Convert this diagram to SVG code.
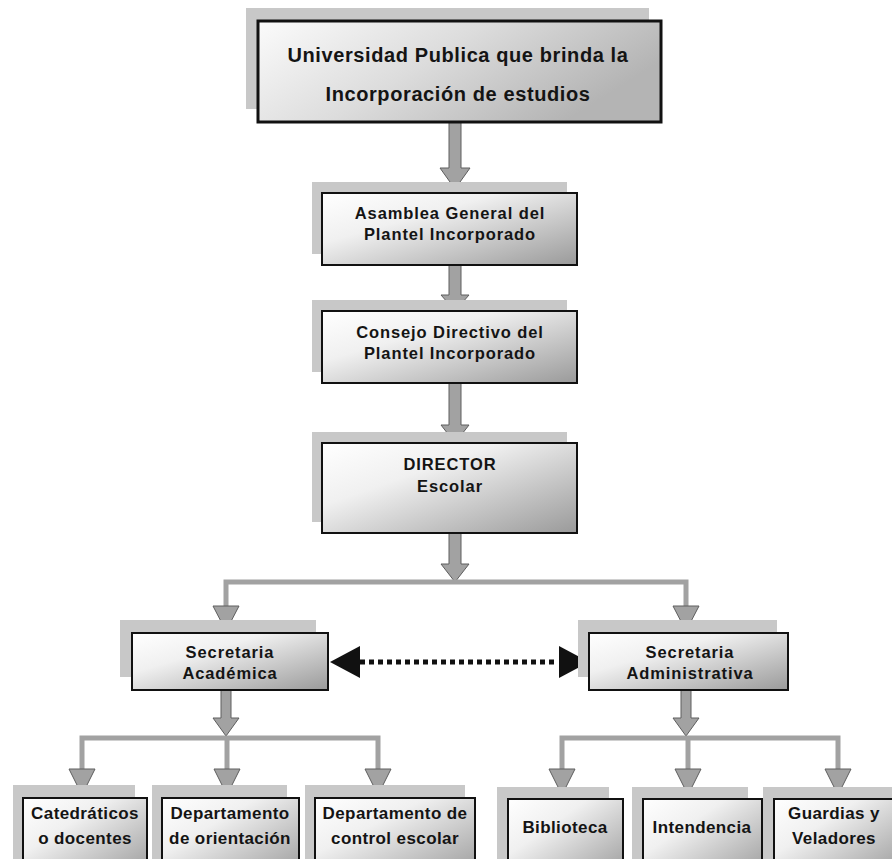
<svg xmlns="http://www.w3.org/2000/svg" width="892" height="859" viewBox="0 0 892 859">
  <defs>
    <linearGradient id="boxFill" x1="0" y1="0" x2="1" y2="1">
      <stop offset="0" stop-color="#ffffff"/>
      <stop offset="0.35" stop-color="#f0f0f0"/>
      <stop offset="1" stop-color="#9a9a9a"/>
    </linearGradient>
    <linearGradient id="topFill" x1="0" y1="0" x2="1" y2="0.4">
      <stop offset="0" stop-color="#fbfbfb"/>
      <stop offset="0.5" stop-color="#dcdcdc"/>
      <stop offset="1" stop-color="#b4b4b4"/>
    </linearGradient>
  </defs>
  <style>
    .shadow { fill: #c8c8c8; }
    .box { fill: url(#boxFill); stroke: #111; stroke-width: 2; }
    .topbox { fill: url(#topFill); stroke: #111; stroke-width: 3; }
    .lbl { font-family: "Liberation Sans", Arial, sans-serif; font-weight: bold; fill: #141414; text-anchor: middle; dominant-baseline: central; }
    .t20 { font-size: 20px; letter-spacing: 0.6px; }
    .t16 { font-size: 16.5px; letter-spacing: 0.9px; }
    .t17 { font-size: 17px; letter-spacing: 0.4px; }
    .arrow { fill: #a2a2a2; stroke: #5e5e5e; stroke-width: 1; }
    .bar { fill: none; stroke: #a2a2a2; stroke-width: 5; }
    .dots { fill: none; stroke: #111; stroke-width: 5; stroke-dasharray: 5 4; }
    .head { fill: #111; }
  </style>

  <rect width="892" height="859" fill="#ffffff"/>

  <!-- connectors -->
  <g id="connectors">
    <!-- trunk arrows -->
    <path class="arrow" d="M449,122 L461,122 L461,168 L470,168 L455,189 L440,168 L449,168 Z"/>
    <path class="arrow" d="M449,265 L461,265 L461,295 L469,295 L455,311 L441,295 L449,295 Z"/>
    <path class="arrow" d="M449,383 L461,383 L461,425 L469,425 L455,443 L441,425 L449,425 Z"/>
    <path class="arrow" d="M449,533 L461,533 L461,564 L469,564 L455,582 L441,564 L449,564 Z"/>
    <!-- split to the two secretariats -->
    <path class="bar" d="M226,608 L226,582 L686,582 L686,608"/>
    <path class="arrow" d="M213,606 L239,606 L226,631 Z"/>
    <path class="arrow" d="M673,606 L699,606 L686,631 Z"/>
    <!-- academic branch -->
    <path class="arrow" d="M221,690 L231,690 L231,718 L239,718 L226,736 L213,718 L221,718 Z"/>
    <path class="bar" d="M82,771 L82,738 L378,738 L378,771"/>
    <path class="bar" d="M227,738 L227,771"/>
    <path class="arrow" d="M69,769 L95,769 L82,795 Z"/>
    <path class="arrow" d="M214,769 L240,769 L227,795 Z"/>
    <path class="arrow" d="M365,769 L391,769 L378,795 Z"/>
    <!-- administrative branch -->
    <path class="arrow" d="M681,690 L691,690 L691,718 L699,718 L686,736 L673,718 L681,718 Z"/>
    <path class="bar" d="M562,771 L562,738 L838,738 L838,771"/>
    <path class="bar" d="M688,738 L688,771"/>
    <path class="arrow" d="M549,769 L575,769 L562,795 Z"/>
    <path class="arrow" d="M675,769 L701,769 L688,795 Z"/>
    <path class="arrow" d="M825,769 L851,769 L838,795 Z"/>
    <!-- coordination between secretariats -->
    <line class="dots" x1="360" y1="662" x2="558" y2="662"/>
    <path class="head" d="M330,662 L360,646 L360,678 Z"/>
    <path class="head" d="M589,662 L559,646 L559,678 Z"/>
  </g>

  <g id="universidad">
    <rect class="shadow" x="246" y="8" width="403" height="101"/>
    <rect class="topbox" x="258" y="21" width="403" height="101"/>
    <text class="lbl t20" x="458" y="55">Universidad Publica que brinda la</text>
    <text class="lbl t20" x="458" y="94">Incorporación de estudios</text>
  </g>

  <g id="asamblea">
    <rect class="shadow" x="312" y="182" width="255" height="72"/>
    <rect class="box" x="322" y="193" width="255" height="72"/>
    <text class="lbl t16" x="450" y="213">Asamblea General del</text>
    <text class="lbl t16" x="450" y="234">Plantel Incorporado</text>
  </g>

  <g id="consejo">
    <rect class="shadow" x="312" y="300" width="255" height="72"/>
    <rect class="box" x="322" y="311" width="255" height="72"/>
    <text class="lbl t16" x="450" y="332">Consejo Directivo del</text>
    <text class="lbl t16" x="450" y="353">Plantel Incorporado</text>
  </g>

  <g id="director">
    <rect class="shadow" x="312" y="432" width="255" height="90"/>
    <rect class="box" x="322" y="443" width="255" height="90"/>
    <text class="lbl t16" x="450" y="464">DIRECTOR</text>
    <text class="lbl t16" x="450" y="486">Escolar</text>
  </g>

  <g id="sec-academica">
    <rect class="shadow" x="120" y="620" width="196" height="57"/>
    <rect class="box" x="132" y="633" width="196" height="57"/>
    <text class="lbl t16" x="230" y="652">Secretaria</text>
    <text class="lbl t16" x="230" y="673">Académica</text>
  </g>

  <g id="sec-administrativa">
    <rect class="shadow" x="578" y="620" width="199" height="57"/>
    <rect class="box" x="589" y="633" width="199" height="57"/>
    <text class="lbl t16" x="690" y="652">Secretaria</text>
    <text class="lbl t16" x="690" y="673">Administrativa</text>
  </g>

  <g id="catedraticos">
    <rect class="shadow" x="13" y="785" width="122" height="80"/>
    <rect class="box" x="23" y="798" width="124" height="80"/>
    <text class="lbl t17" x="85" y="813">Catedráticos</text>
    <text class="lbl t17" x="85" y="838">o docentes</text>
  </g>

  <g id="dep-orientacion">
    <rect class="shadow" x="152" y="785" width="135" height="80"/>
    <rect class="box" x="162" y="798" width="137" height="80"/>
    <text class="lbl t17" x="230" y="813">Departamento</text>
    <text class="lbl t17" x="230" y="838">de orientación</text>
  </g>

  <g id="dep-control">
    <rect class="shadow" x="305" y="785" width="160" height="80"/>
    <rect class="box" x="315" y="798" width="160" height="80"/>
    <text class="lbl t17" x="395" y="813">Departamento de</text>
    <text class="lbl t17" x="395" y="838">control escolar</text>
  </g>

  <g id="biblioteca">
    <rect class="shadow" x="497" y="787" width="112" height="80"/>
    <rect class="box" x="508" y="799" width="115" height="80"/>
    <text class="lbl t17" x="565" y="827">Biblioteca</text>
  </g>

  <g id="intendencia">
    <rect class="shadow" x="632" y="787" width="116" height="80"/>
    <rect class="box" x="643" y="799" width="119" height="80"/>
    <text class="lbl t17" x="702" y="827">Intendencia</text>
  </g>

  <g id="guardias">
    <rect class="shadow" x="763" y="787" width="130" height="80"/>
    <rect class="box" x="774" y="799" width="122" height="80"/>
    <text class="lbl t17" x="834" y="813">Guardias y</text>
    <text class="lbl t17" x="834" y="838">Veladores</text>
  </g>
</svg>
